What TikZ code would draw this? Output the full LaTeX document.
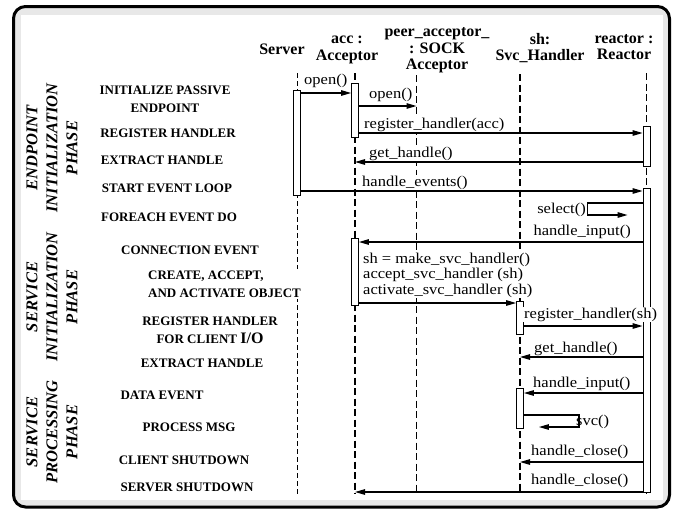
\documentclass[tikz,border=0pt]{standalone}
\usepackage{fontspec}
\setmainfont{Liberation Serif}
\newfontfamily\msgfont[FakeStretch=1.1]{Liberation Serif}
\usetikzlibrary{positioning, arrows.meta}

\begin{document}
\begin{tikzpicture}[
        x=1pt, y=-1pt,
        head/.style={font=\fontsize{16}{16.5}\selectfont\bfseries, align=center, inner sep=0pt},
        phase/.style={font=\fontsize{16.5}{20}\selectfont\bfseries\itshape, align=center, rotate=90, inner sep=0pt},
        stepl/.style={font=\fontsize{13}{18}\selectfont\bfseries, fill=white, inner sep=2pt},
        lbl/.style={font=\msgfont\fontsize{15}{15.5}\selectfont, fill=white, inner sep=1pt, anchor=base west},
        life/.style={dash pattern=on 7pt off 3.5pt, line width=1.2pt},
        act/.style={rectangle, draw=black, fill=white, line width=0.8pt, minimum width=7pt, inner sep=0pt},
        msg/.style={-{Triangle[length=10pt, width=5.5pt]}, line width=1.2pt}
    ]
    \useasboundingbox (0,0) rectangle (676,512);
    \draw[line width=3pt, rounded corners=12pt, fill=black!9] (13.5,6.5) rectangle (669.5,507);
    \fill[white] (21,15) rectangle (663,500);

    % objects
    \node[head] (srvH) at (282,49) {Server};
    \node[head] (accH) at (347,50) {acc :\\Acceptor};
    \node[head] (peerH) at (437,50.5) {peer\_acceptor\_\\: SOCK\\Acceptor};
    \node[head] (shH) at (540,48) {sh:\\Svc\_Handler};
    \node[head] (reaH) at (624,47) {reactor :\\Reactor};

    \coordinate (srvT) at (297,73);
    \coordinate (accT) at (355,73);
    \coordinate (peerT) at (416.5,75);
    \coordinate (shT) at (520,74);
    \coordinate (reaT) at (646.5,73);
    \coordinate (bot) at (0,494);

    \draw[life, line width=0.8pt, dash pattern=on 5pt off 3pt] (srvT) -- (srvT |- bot);
    \foreach \t in {accT, peerT, shT, reaT}
        \draw[life] (\t) -- (\t |- bot);

    % phases and steps
    \node[phase] (phEnd) at (52,148) {ENDPOINT\\INITIALIZATION\\PHASE};
    \node[phase] (phSvc) at (52,297) {SERVICE\\INITIALIZATION\\PHASE};
    \node[phase] (phProc) at (52,432) {SERVICE\\PROCESSING\\PHASE};

    \node[stepl, align=center] (sInit) at (165,99) {INITIALIZE PASSIVE\\ENDPOINT};
    \node[stepl] (sReg) at (168,133) {REGISTER HANDLER};
    \node[stepl] (sExt) at (162,160) {EXTRACT HANDLE};
    \node[stepl] (sLoop) at (167,188) {START EVENT LOOP};
    \node[stepl] (sEach) at (169,217) {FOREACH EVENT DO};
    \node[stepl] (sConn) at (190,250) {CONNECTION EVENT};
    \node[stepl, align=left, anchor=west] (sCreate) at (146,284) {CREATE, ACCEPT,\\AND ACTIVATE OBJECT};
    \node[stepl, align=center] (sRegIO) at (210,330) {REGISTER HANDLER\\FOR CLIENT {\fontsize{16}{16}\selectfont I/O}};
    \node[stepl] (sExt2) at (202,363) {EXTRACT HANDLE};
    \node[stepl] (sData) at (162,395) {DATA EVENT};
    \node[stepl] (sProc) at (189,427) {PROCESS MSG};
    \node[stepl] (sClient) at (184,460) {CLIENT SHUTDOWN};
    \node[stepl] (sServer) at (187,487) {SERVER SHUTDOWN};

    % activations
    \node[act, minimum height=105pt] (srvA) at (297,142.5) {};
    \node[act, minimum height=54pt] (accA) at (355,110) {};
    \node[act, minimum height=40pt] (reaA) at (646.5,146) {};
    \node[act, minimum height=67pt] (accB) at (355,271.5) {};
    \node[act, minimum height=304pt] (reaB) at (646.5,340) {};
    \node[act, minimum height=33pt] (shA) at (520,317.5) {};
    \node[act, minimum height=40pt] (shB) at (520,408) {};

    % messages
    \node[lbl] (mOpen) at (303,84) {open()};
    \node[lbl] (mOpen2) at (368,98) {open()};
    \node[lbl] (mRegAcc) at (363,128) {register\_handler(acc)};
    \node[lbl] (mGet) at (368,157) {get\_handle()};
    \node[lbl] (mEvents) at (361,186) {handle\_events()};
    \node[lbl, anchor=base east] (mSelect) at (587,213) {select()};
    \node[lbl, anchor=base east] (mInput) at (632,235) {handle\_input()};
    \node[lbl, align=left, anchor=north west] (mMake) at (362,251.5) {sh = make\_svc\_handler()\\accept\_svc\_handler (sh)\\activate\_svc\_handler (sh)};
    \node[lbl] (mRegSh) at (523,318) {register\_handler(sh)};
    \node[lbl] (mGet2) at (533,352) {get\_handle()};
    \node[lbl] (mInput2) at (532,387) {handle\_input()};
    \node[lbl, fill=none] (mSvc) at (575,425) {svc()};
    \node[lbl] (mClose) at (530,455) {handle\_close()};
    \node[lbl] (mClose2) at (530,484) {handle\_close()};

    \draw[msg] (srvA.east |- 0,93) -- (accA.west |- 0,93);
    \draw[msg] (accA.east |- 0,106) -- (peerT |- 0,106);
    \draw[msg] (accA.east |- 0,133) -- (reaA.west |- 0,133);
    \draw[msg] (reaA.west |- 0,162) -- (accT |- 0,162);
    \draw[msg] (srvA.east |- 0,191) -- (reaB.west |- 0,191);
    \draw[msg] (reaB.west |- 0,203) -- ++(-55,0) -- ++(0,12) -- ++(40,0);
    \draw[msg] (reaB.west |- 0,242) -- (accB.east |- 0,242);
    \draw[msg] (accB.east |- 0,303) -- (shA.west |- 0,303);
    \draw[msg] (shA.east |- 0,326) -- (reaB.west |- 0,326);
    \draw[msg] (reaB.west |- 0,357) -- (shT |- 0,357);
    \draw[msg] (reaB.west |- 0,393) -- (shB.east |- 0,393);
    \draw[msg] (shB.east |- 0,415) -- ++(55,0) -- ++(0,12) -- ++(-40,0);
    \draw[msg] (reaB.west |- 0,462) -- (shT |- 0,462);
    \draw[msg] (reaB.west |- 0,492) -- (accT |- 0,492);
\end{tikzpicture}
\end{document}
